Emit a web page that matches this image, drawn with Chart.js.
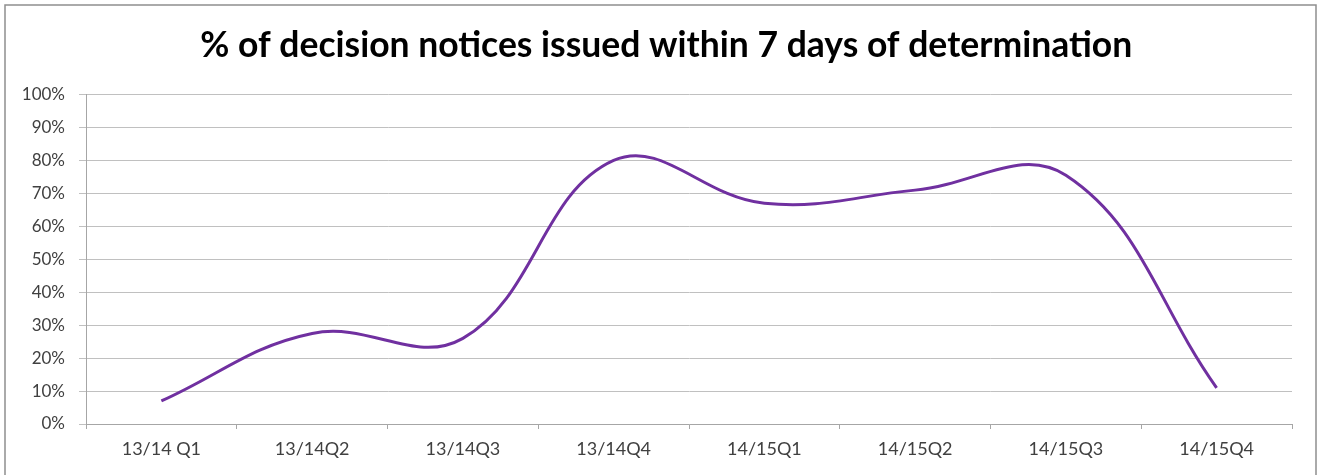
<!DOCTYPE html>
<html>
<head>
<meta charset="utf-8">
<script src="https://cdn.jsdelivr.net/npm/chart.js@4.4.1/dist/chart.umd.min.js"></script>
<style>
  html, body { margin: 0; padding: 0; background: #fff; }
  #wrap { width: 1319px; height: 475px; position: relative; }
</style>
</head>
<body>
<div id="wrap"><canvas id="noticesCanvas"></canvas></div>
<script>
// data
const quarters = ['13/14 Q1', '13/14Q2', '13/14Q3', '13/14Q4', '14/15Q1', '14/15Q2', '14/15Q3', '14/15Q4'];
const pctWithin7Days = [7, 27.5, 26, 80, 67, 71, 75.5, 11];
const titleText = '% of decision notices issued within 7 days of determination';

// draws the grey frame round the whole chart, like the excel chart box
const frame = {
    id: 'frame',
    beforeDraw(chart) {
        const c = chart.ctx;
        c.save();
        c.fillStyle = '#fff';
        c.fillRect(0, 0, chart.width, chart.height);
        c.strokeStyle = '#8e8e8e';
        c.lineWidth = 1.5;
        c.strokeRect(5, 5, 1311, 490);
        c.restore();
    }
};

document.addEventListener('DOMContentLoaded', function() {
    const ctx = document.getElementById('noticesCanvas').getContext('2d');
    new Chart(ctx, {
        type: 'line',
        data: {
            labels: quarters,
            datasets: [{
                label: 'within 7 days',
                data: pctWithin7Days,
                borderColor: '#7030a0',
                borderWidth: 3,
                pointRadius: 0,
                tension: 0.4,
                fill: false
            }]
        },
        options: {
            responsive: true,
            maintainAspectRatio: false,
            animation: false,
            layout: { padding: { left: 6, right: 27, top: 0, bottom: 0 } },
            plugins: {
                legend: { display: false },
                tooltip: { enabled: false },
                title: {
                    display: true,
                    // leading spaces nudge the title a bit to the right, the original is centred on the whole box
                    text: '    ' + titleText,
                    color: '#000',
                    font: { family: 'Lato', size: 35.5, weight: 'bold' },
                    padding: { top: 24, bottom: 28 }
                }
            },
            scales: {
                x: {
                    offset: true,
                    grid: { offset: true, drawOnChartArea: false, drawTicks: true, tickLength: 5, color: '#a6a6a6' },
                    border: { color: '#a6a6a6' },
                    ticks: { color: '#404040', font: { family: 'Lato', size: 18 }, padding: 9, maxRotation: 0 },
                    afterFit(scale) { scale.height = 51; }
                },
                y: {
                    min: 0,
                    max: 100,
                    ticks: {
                        stepSize: 10,
                        color: '#404040',
                        font: { family: 'Lato', size: 17 },
                        padding: 14,
                        callback: v => v + '%'
                    },
                    grid: { color: '#c0c0c0', tickLength: 7, lineWidth: 1 },
                    border: { color: '#a6a6a6' },
                    afterFit(scale) { scale.width = 80; }
                }
            }
        },
        plugins: [frame]
    });
});
</script>
</body>
</html>
